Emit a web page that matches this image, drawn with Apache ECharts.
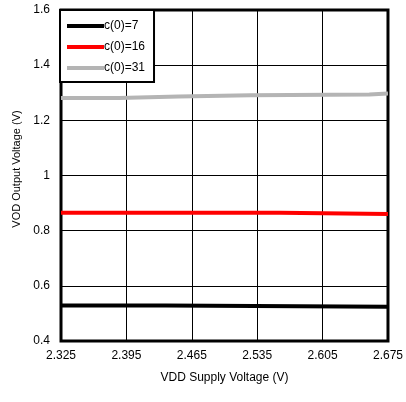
<!DOCTYPE html>
<html><head><meta charset="utf-8">
<script src="https://cdn.jsdelivr.net/npm/echarts@6/dist/echarts.min.js"></script>
<style>html,body{margin:0;padding:0;background:#fff}#c{width:406px;height:402px}</style>
</head><body><div id="c"></div>
<script>
const xTicks = [2.325, 2.395, 2.465, 2.535, 2.605, 2.675];
const yTicks = [0.4, 0.6, 0.8, 1, 1.2, 1.4, 1.6];
const seriesNames = ['c(0)=7', 'c(0)=16', 'c(0)=31'];
const xC7 = [2.325, 2.437, 2.437, 2.675];
const yC7 = [0.529, 0.529, 0.524, 0.524];
const xC16 = [2.325, 2.559, 2.559, 2.675];
const yC16 = [0.865, 0.865, 0.860, 0.860];
const xC31 = [2.325, 2.387, 2.387, 2.451, 2.451, 2.528, 2.528, 2.655, 2.655, 2.675];
const yC31 = [1.281, 1.281, 1.286, 1.286, 1.291, 1.291, 1.294, 1.294, 1.297, 1.297];
const colors = ['#000000', '#ff0000', '#b4b4b4'];
const pair = (xs, ys) => xs.map((x, i) => [x, ys[i]]);
const font = 'Liberation Sans, Arial, sans-serif';
const chart = echarts.init(document.getElementById('c'));
chart.setOption({
  animation: false,
  grid: {left: 61, right: 14, top: 10, bottom: 61, show: true, borderColor: '#000', borderWidth: 3, backgroundColor: 'transparent'},
  legend: {
    orient: 'vertical', left: 60, top: 10, padding: [10, 9, 8, 7], itemGap: 9,
    itemWidth: 37, itemHeight: 4, icon: 'rect',
    borderColor: '#000', borderWidth: 2, backgroundColor: '#fff',
    textStyle: {fontFamily: font, fontSize: 12, color: '#000', padding: [0, 0, 0, -5]},
    data: seriesNames
  },
  xAxis: {
    type: 'value', min: xTicks[0], max: xTicks[xTicks.length - 1], interval: 0.07,
    name: 'VDD Supply Voltage (V)', nameLocation: 'middle', nameGap: 31,
    nameTextStyle: {fontFamily: font, fontSize: 12, color: '#000'},
    axisLine: {show: false}, axisTick: {show: false},
    axisLabel: {fontFamily: font, fontSize: 12, color: '#000', margin: 9, formatter: v => v.toFixed(3)},
    splitLine: {show: true, lineStyle: {color: '#000', width: 1}}
  },
  yAxis: {
    type: 'value', min: yTicks[0], max: yTicks[yTicks.length - 1], interval: 0.2,
    name: 'VOD Output Voltage (V)', nameLocation: 'middle', nameGap: 35,
    nameTextStyle: {fontFamily: font, fontSize: 11, color: '#000', padding: [0, 0, 0, 13]},
    axisLine: {show: false}, axisTick: {show: false},
    axisLabel: {fontFamily: font, fontSize: 12, color: '#000', margin: 11, formatter: v => String(+v.toFixed(1))},
    splitLine: {show: true, lineStyle: {color: '#000', width: 1}}
  },
  series: [
    {name: seriesNames[0], type: 'line', data: pair(xC7, yC7), showSymbol: false, lineStyle: {width: 4, color: colors[0]}, itemStyle: {color: colors[0]}},
    {name: seriesNames[1], type: 'line', data: pair(xC16, yC16), showSymbol: false, lineStyle: {width: 4, color: colors[1]}, itemStyle: {color: colors[1]}},
    {name: seriesNames[2], type: 'line', data: pair(xC31, yC31), showSymbol: false, lineStyle: {width: 4, color: colors[2]}, itemStyle: {color: colors[2]}}
  ]
});
</script></body></html>
